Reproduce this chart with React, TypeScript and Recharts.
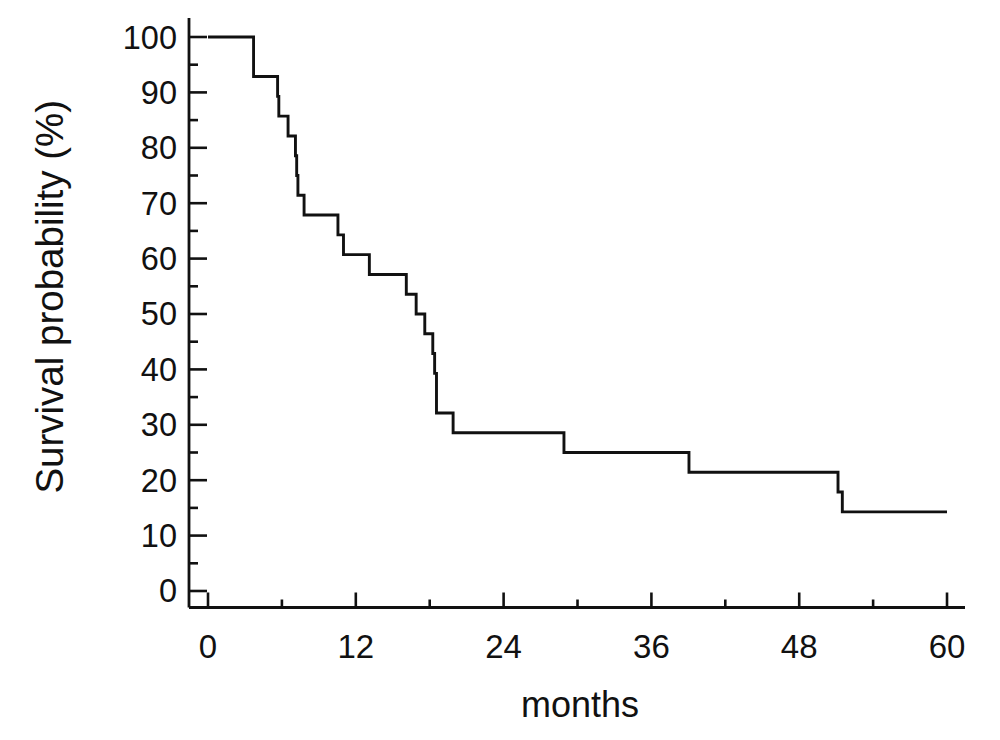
import { LineChart, Line, XAxis, YAxis, Label } from "recharts";

// Kaplan-Meier estimate (months, survival %)
const months = [
  0, 3.7, 5.65, 5.75, 6.5, 7.1, 7.2, 7.3, 7.8, 10.55, 11.0, 13.1, 16.1, 16.9,
  17.6, 18.25, 18.4, 18.55, 19.9, 28.9, 39.05, 51.15, 51.5, 60,
];
const survival = [
  100, 92.86, 89.29, 85.71, 82.14, 78.57, 75, 71.43, 67.86, 64.29, 60.71,
  57.14, 53.57, 50, 46.43, 42.86, 39.29, 32.14, 28.57, 25, 21.43, 17.86,
  14.29, 14.29,
];

const xTicks = [0, 6, 12, 18, 24, 30, 36, 42, 48, 54, 60];
const yTicks = [0, 5, 10, 15, 20, 25, 30, 35, 40, 45, 50, 55, 60, 65, 70, 75, 80, 85, 90, 95, 100];

const data = months.map((m, i) => ({ month: m, surv: survival[i] }));

const FONT = "'Liberation Sans', Arial, Helvetica, sans-serif";
const INK = "#111";

function YTick({ x, y, payload }: any) {
  const major = payload.value % 10 === 0;
  return (
    <g>
      <line x1={x} y1={y} x2={x + (major ? 18 : 9)} y2={y} stroke={INK} strokeWidth={2.6} />
      {major && (
        <text
          x={x - 12}
          y={y + 11.5}
          textAnchor="end"
          fontSize={32.5}
          fontFamily={FONT}
          fill={INK}
        >
          {payload.value}
        </text>
      )}
    </g>
  );
}

function XTick({ x, y, payload }: any) {
  const major = payload.value % 12 === 0;
  return (
    <g>
      <line x1={x} y1={y} x2={x} y2={y - (major ? 15 : 8)} stroke={INK} strokeWidth={2.6} />
      {major && (
        <text
          x={x}
          y={y + 50.5}
          textAnchor="middle"
          fontSize={33}
          fontFamily={FONT}
          fill={INK}
        >
          {payload.value}
        </text>
      )}
    </g>
  );
}

function YTitle({ viewBox }: any) {
  const cx = viewBox.x + 63;
  const cy = viewBox.y + viewBox.height / 2 - 16;
  return (
    <text
      x={cx}
      y={cy}
      transform={`rotate(-90, ${cx}, ${cy})`}
      textAnchor="middle"
      fontSize={38.5}
      fontFamily={FONT}
      fill={INK}
    >
      Survival probability (%)
    </text>
  );
}

function XTitle({ viewBox }: any) {
  const cx = viewBox.x + viewBox.width / 2 + 3;
  return (
    <text
      x={cx}
      y={viewBox.y + 109}
      textAnchor="middle"
      fontSize={36}
      fontFamily={FONT}
      fill={INK}
    >
      months
    </text>
  );
}

export default function App() {
  return (
    <div style={{ position: "absolute", left: 0, top: 0, background: "#fff" }}>
      <LineChart
        width={1000}
        height={740}
        data={data}
        margin={{ top: 18, right: 35, bottom: 0, left: 0 }}
      >
        <XAxis
          dataKey="month"
          type="number"
          domain={[-1.543, 61.46]}
          ticks={xTicks}
          interval={0}
          allowDataOverflow
          height={132.5}
          tickSize={0}
          tickMargin={0}
          tickLine={false}
          axisLine={{ stroke: INK, strokeWidth: 2.8 }}
          tick={<XTick />}
        >
          <Label content={<XTitle />} />
        </XAxis>
        <YAxis
          type="number"
          domain={[-2.98, 103.43]}
          ticks={yTicks}
          interval={0}
          allowDataOverflow
          width={189}
          tickSize={0}
          tickMargin={0}
          tickLine={false}
          axisLine={{ stroke: INK, strokeWidth: 2.8 }}
          tick={<YTick />}
        >
          <Label content={<YTitle />} />
        </YAxis>
        <Line
          type="stepAfter"
          dataKey="surv"
          stroke={INK}
          strokeWidth={2.9}
          dot={false}
          activeDot={false}
          isAnimationActive={false}
        />
      </LineChart>
    </div>
  );
}
